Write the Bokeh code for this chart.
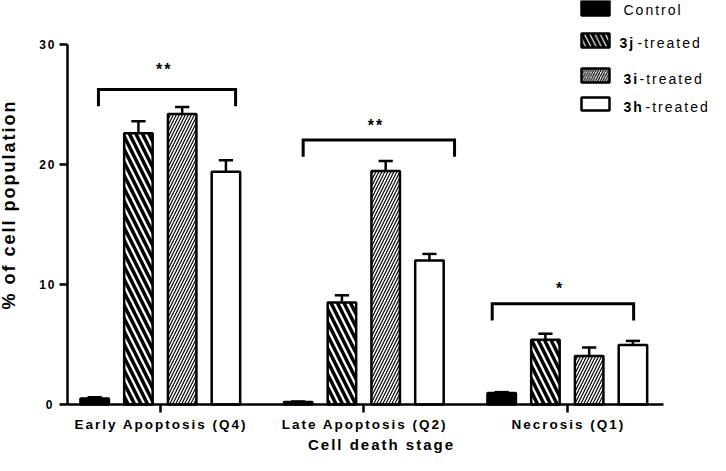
import numpy as np
from bokeh.plotting import figure
from bokeh.models import (Range1d, FixedTicker, Label, BoxAnnotation, InlineStyleSheet,
                          LinearAxis)
from bokeh.embed import file_html
from bokeh.resources import INLINE

# ---------------- data ----------------
categories = ["Early Apoptosis (Q4)", "Late Apoptosis (Q2)", "Necrosis (Q1)"]
control = [0.5, 0.2, 0.95]
control_err = [0.1, 0.05, 0.08]
treated_3j = [22.6, 8.5, 5.4]
treated_3j_err = [1.0, 0.6, 0.5]
treated_3i = [24.2, 19.45, 4.05]
treated_3i_err = [0.6, 0.85, 0.7]
treated_3h = [19.4, 12.0, 4.95]
treated_3h_err = [0.95, 0.55, 0.35]
y_ticks = [0, 10, 20, 30]
sig_text = ["**", "**", "*"]
sig_bracket_y = [26.25, 22.05, 8.4]
sig_text_y = [27.9, 23.25, 9.67]
legend_bold = ["3j", "3i", "3h"]
legend_rest = "-treated"

# ---------------- geometry (canvas pixels) ----------------
W, H = 710, 455
PX_PER_CAT = 203.5
PX_PER_UNIT = 12.0
CAT0_PX = 159.8          # pixel of first category centre
AXIS_LEFT_PX, AXIS_RIGHT_PX, AXIS_BOTTOM_PX = 67, 663, 404
LS = 2                   # letter spacing (px)

XS = -CAT0_PX / PX_PER_CAT
XE = XS + W / PX_PER_CAT
YS = -(H - AXIS_BOTTOM_PX) / PX_PER_UNIT
YE = AXIS_BOTTOM_PX / PX_PER_UNIT


def dx(px):
    return XS + px / PX_PER_CAT


def dy(py):
    return (AXIS_BOTTOM_PX - py) / PX_PER_UNIT


XA, XB = dx(AXIS_LEFT_PX), dx(AXIS_RIGHT_PX)

FONT = "Liberation Sans"
BAR_W = 0.14
PITCH = 0.215
CAP = 0.035
LW = 2.5

p = figure(width=W, height=H, output_backend="svg", toolbar_location=None,
           x_range=Range1d(XS, XE), y_range=Range1d(YS, YE),
           min_border_left=0, min_border_right=0,
           min_border_top=0, min_border_bottom=0)
p.stylesheets = [InlineStyleSheet(css=":host { letter-spacing: %dpx; }" % LS)]
p.outline_line_color = None
p.xgrid.grid_line_color = None
p.ygrid.grid_line_color = None
p.background_fill_color = "white"
p.border_fill_color = "white"

idx = np.arange(len(categories))

styles = [
    dict(fill_color="black", hatch_pattern=None),
    dict(fill_color="white", hatch_pattern="\\", hatch_scale=13, hatch_weight=3.5),
    dict(fill_color="white", hatch_pattern="/", hatch_scale=6, hatch_weight=1.2),
    dict(fill_color="white", hatch_pattern=None),
]
series = [(control, control_err), (treated_3j, treated_3j_err),
          (treated_3i, treated_3i_err), (treated_3h, treated_3h_err)]

for k, ((vals, errs), st) in enumerate(zip(series, styles)):
    xs = idx + (k - 1.5) * PITCH
    vals = np.array(vals)
    errs = np.array(errs)
    kw = dict(fill_color=st["fill_color"])
    if st.get("hatch_pattern"):
        kw.update(hatch_pattern=st["hatch_pattern"], hatch_scale=st["hatch_scale"],
                  hatch_weight=st["hatch_weight"], hatch_color="black")
    p.segment(x0=xs, y0=vals, x1=xs, y1=vals + errs, line_color="black", line_width=LW)
    p.segment(x0=xs - CAP, y0=vals + errs, x1=xs + CAP, y1=vals + errs,
              line_color="black", line_width=LW)
    p.vbar(x=xs, top=vals, bottom=0, width=BAR_W, line_color="black", line_width=LW, **kw)

# significance brackets
bracket_spans = [(-0.304, 0.370), (-0.298, 0.446), (-0.369, 0.326)]
star_offsets = [0.01, 0.05, -0.04]
drop = 1.4
bx, by = [], []
for i, (a, b) in enumerate(bracket_spans):
    bx.append([i + a, i + a, i + b, i + b])
    top = sig_bracket_y[i]
    by.append([top - drop, top, top, top - drop])
    p.add_layout(Label(x=i + star_offsets[i], y=sig_text_y[i], text=sig_text[i],
                       text_align="center", text_baseline="middle",
                       text_font=FONT, text_font_style="bold", text_font_size="16px",
                       text_color="black"))
p.multi_line(xs=bx, ys=by, line_color="black", line_width=3, line_join="miter")


def style_axis(ax):
    ax.axis_line_width = LW
    ax.axis_line_color = "black"
    ax.major_tick_line_width = LW
    ax.major_tick_line_color = "black"
    ax.major_tick_in = 0
    ax.major_tick_out = 8
    ax.minor_tick_line_color = None
    ax.major_label_text_font = FONT
    ax.major_label_text_font_style = "bold"
    ax.major_label_text_color = "black"
    ax.axis_label_text_font = FONT
    ax.axis_label_text_font_style = "bold"
    ax.axis_label_text_color = "black"


# x axis: line + ticks
xax = p.xaxis[0]
style_axis(xax)
xax.fixed_location = 0
xax.bounds = (XA, XB)
xax.ticker = FixedTicker(ticks=list(idx))
xax.major_label_text_font_size = "0px"
xax.major_label_text_color = None

# x axis: category labels (tick positions compensate the letter spacing)
label_ticks = [round(float(i) - (len(c) - 1) * LS / 2 / PX_PER_CAT, 4)
               for i, c in zip(idx, categories)]
xlab = LinearAxis(fixed_location=0, bounds=(XA, XB), ticker=FixedTicker(ticks=label_ticks),
                  major_label_overrides={t: c for t, c in zip(label_ticks, categories)})
style_axis(xlab)
xlab.axis_line_color = None
xlab.major_tick_line_color = None
xlab.major_tick_out = 0
xlab.major_label_standoff = 12
xlab.major_label_text_font_size = "13.5px"
xlab.axis_label = "Cell death stage"
xlab.axis_label_text_font_size = "15px"
xlab.axis_label_standoff = 1
p.add_layout(xlab, "below")

# y axis
yax = p.yaxis[0]
style_axis(yax)
yax.fixed_location = XA
yax.bounds = (0, 30)
yax.ticker = FixedTicker(ticks=y_ticks)
yax.major_label_text_font_size = "12px"
yax.major_label_standoff = 7
yax.axis_label = "% of cell population"
yax.axis_label_text_font_size = "18px"
yax.axis_label_standoff = 17

# legend (drawn manually to allow partially bold labels)
S = -16
leg_boxes = [(0, 15), (33, 47), (68, 82), (97, 110)]
leg_text_y = [9, 42, 78, 106]
for k, ((t, b), st) in enumerate(zip(leg_boxes, styles)):
    kw = dict(fill_color=st["fill_color"], fill_alpha=1.0)
    if st.get("hatch_pattern"):
        kw.update(hatch_pattern=st["hatch_pattern"], hatch_scale=st["hatch_scale"] * 0.8,
                  hatch_weight=st["hatch_weight"], hatch_color="black")
    p.add_layout(BoxAnnotation(left=dx(597 + S), right=dx(625 + S), top=dy(t), bottom=dy(b),
                               line_color="black", line_width=LW, line_alpha=1.0, **kw))

LEG_FS = "14px"
p.add_layout(Label(x=dx(639 + S), y=dy(leg_text_y[0]), text="Control", text_font=FONT,
                   text_font_size=LEG_FS, text_baseline="middle", text_color="black"))
bold_x = [635, 639, 639]
rest_x = [653, 655, 661]
for k in range(3):
    yy = dy(leg_text_y[k + 1])
    p.add_layout(Label(x=dx(bold_x[k] + S), y=yy, text=legend_bold[k], text_font=FONT,
                       text_font_style="bold", text_font_size=LEG_FS,
                       text_baseline="middle", text_color="black"))
    p.add_layout(Label(x=dx(rest_x[k] + S), y=yy, text=legend_rest, text_font=FONT,
                       text_font_size=LEG_FS, text_baseline="middle", text_color="black"))

open("out.html", "w").write(file_html(p, INLINE))
